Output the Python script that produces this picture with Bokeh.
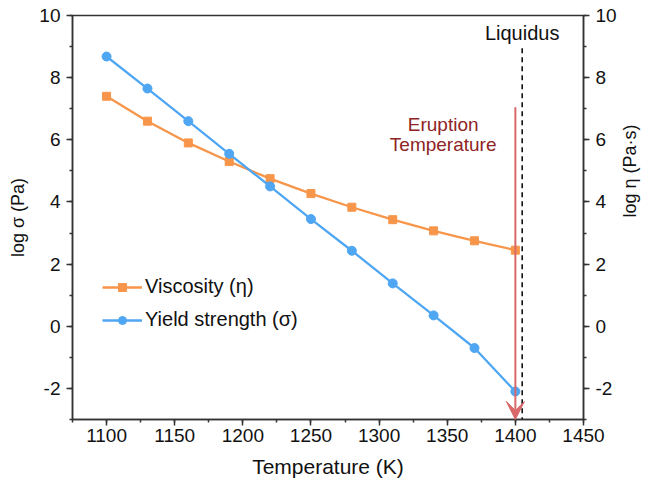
import math
from bokeh.plotting import figure
from bokeh.models import (LinearAxis, Range1d, SingleIntervalTicker, Legend, LegendItem,
                          Arrow, VeeHead, ColumnDataSource, PrintfTickFormatter)
from bokeh.core.properties import value
from bokeh.embed import file_html
from bokeh.resources import INLINE

temperature = [1100, 1130, 1160, 1190, 1220, 1250, 1280, 1310, 1340, 1370, 1400]
log_viscosity = [7.4, 6.6, 5.9, 5.3, 4.75, 4.27, 3.83, 3.43, 3.07, 2.75, 2.45]
log_yield = [8.68, 7.65, 6.6, 5.55, 4.5, 3.45, 2.43, 1.38, 0.35, -0.7, -2.1]
liquidus_T = 1405
eruption_T = 1400

FONT = "Liberation Sans"
ORANGE = "#F7964A"
BLUE = "#4FA6F2"
AXC = "#333333"

p = figure(frame_width=511, frame_height=404, output_backend="svg", toolbar_location=None,
           x_range=Range1d(1075, 1450), y_range=Range1d(-3, 10),
           min_border_left=72, min_border_right=63, min_border_top=15, min_border_bottom=63)
p.xgrid.visible = False
p.ygrid.visible = False
p.outline_line_color = AXC
p.outline_line_width = 1.5
p.background_fill_color = "white"
p.border_fill_color = "white"

p.xaxis.ticker = SingleIntervalTicker(interval=50, num_minor_ticks=2)
p.yaxis.ticker = SingleIntervalTicker(interval=2, num_minor_ticks=2)
p.yaxis.formatter = PrintfTickFormatter(format="%d")
p.xaxis.axis_label = "Temperature (K)"
p.yaxis.axis_label = "log σ (Pa)"

right = LinearAxis(ticker=SingleIntervalTicker(interval=2, num_minor_ticks=2),
                   formatter=PrintfTickFormatter(format="%d"), axis_label="log η (Pa·s)")
p.add_layout(right, "right")
if "axis_label_orientation" in right.properties():
    right.axis_label_orientation = math.pi / 2

for ax in [p.xaxis[0], p.yaxis[0], right]:
    ax.axis_line_color = AXC
    ax.axis_line_width = 1.5
    ax.major_tick_line_color = AXC
    ax.minor_tick_line_color = AXC
    ax.major_tick_line_width = 1.5
    ax.minor_tick_line_width = 1.5
    ax.major_tick_in = 0
    ax.major_tick_out = 6
    ax.minor_tick_in = 0
    ax.minor_tick_out = 3
    ax.major_label_text_font = FONT
    ax.major_label_text_font_size = "19px"
    ax.major_label_text_color = "#111111"
    ax.axis_label_text_font = FONT
    ax.axis_label_text_font_size = "21px"
    ax.axis_label_text_font_style = "normal"
    ax.axis_label_text_color = "#111111"
p.yaxis.axis_label_text_font_size = "18px"
right.axis_label_text_font_size = "18px"
p.xaxis.major_label_standoff = 3
p.xaxis.axis_label_standoff = 10
p.yaxis.major_label_standoff = 6
p.yaxis.axis_label_standoff = 8
right.major_label_standoff = 6
right.axis_label_standoff = 10

src = ColumnDataSource(dict(t=temperature, v=log_viscosity, s=log_yield))

r_vl = p.line("t", "v", source=src, line_color=ORANGE, line_width=2.3)
r_vm = p.scatter("t", "v", source=src, marker="square", size=8, fill_color=ORANGE, line_color=ORANGE)
r_sl = p.line("t", "s", source=src, line_color=BLUE, line_width=2.3)
r_sm = p.scatter("t", "s", source=src, marker="circle", size=9, fill_color=BLUE, line_color=BLUE)

# liquidus
p.segment(x0=[liquidus_T], y0=[8.95], x1=[liquidus_T], y1=[-3], line_color="black",
          line_width=1.5, line_dash="5 4")
p.text(x=[liquidus_T], y=[9.45], text=["Liquidus"], text_font=value(FONT), text_font_size="20px",
       text_align="center", text_baseline="middle", text_color="#111111")

# eruption arrow
p.add_layout(Arrow(x_start=eruption_T, y_start=7.05, x_end=eruption_T, y_end=-3,
                   line_color="#D9686A", line_width=2,
                   end=VeeHead(size=18, fill_color="#D9686A", line_color="#D9686A")))
p.text(x=[1347, 1347], y=[6.49, 5.85], text=["Eruption", "Temperature"], text_font=value(FONT),
       text_font_size="19px", text_align="center", text_baseline="middle", text_color="#8E2424")

legend = Legend(items=[LegendItem(label="Viscosity (η)", renderers=[r_vl, r_vm]),
                       LegendItem(label="Yield strength (σ)", renderers=[r_sl, r_sm])],
                location=(30, 88), padding=0, margin=0, spacing=10,
                glyph_width=40, glyph_height=20, label_height=20, label_standoff=3,
                border_line_color=None, background_fill_alpha=0,
                label_text_font=FONT, label_text_font_size="20px", label_text_color="#111111")
p.add_layout(legend)

open("out.html", "w").write(file_html(p, INLINE))
